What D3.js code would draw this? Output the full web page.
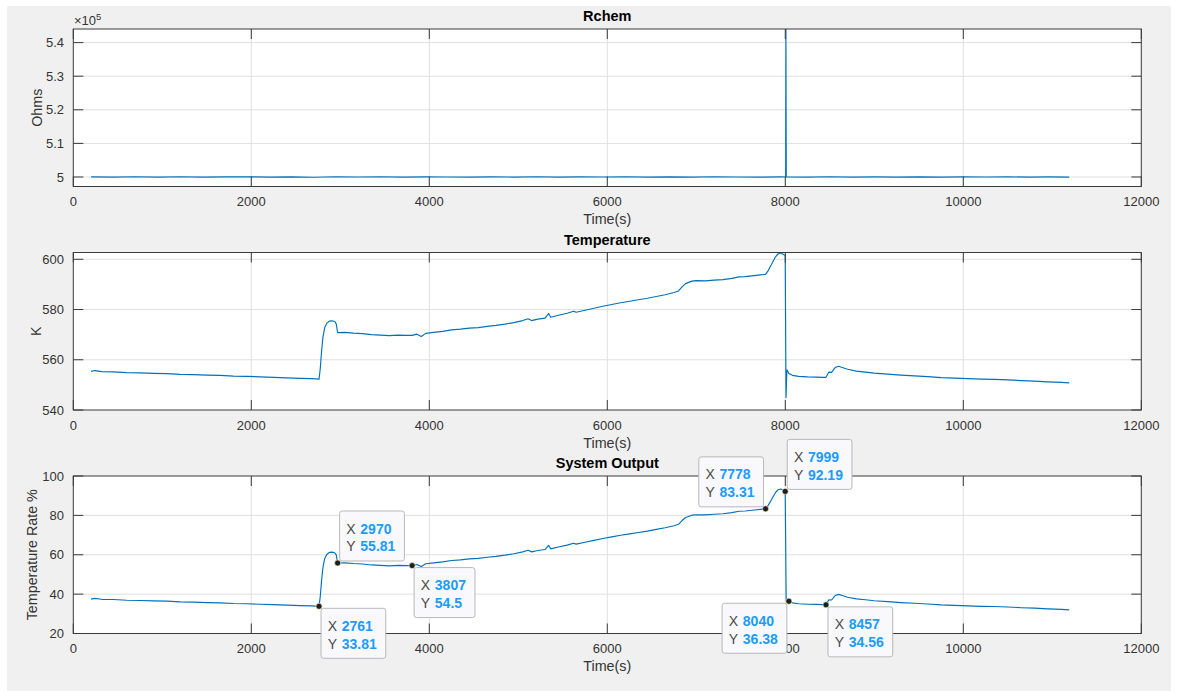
<!DOCTYPE html>
<html>
<head>
<meta charset="utf-8">
<script src="https://cdn.jsdelivr.net/npm/d3@7"></script>
<style>
  body { margin: 0; background: #ffffff; }
  svg { display: block; font-family: "Liberation Sans", Arial, Helvetica, sans-serif; }
</style>
</head>
<body>
<svg id="fig" width="1178" height="697"></svg>
<script>
// ---- data -------------------------------------------------------------
const timeTicks = [0, 2000, 4000, 6000, 8000, 10000, 12000];

// chemical resistance (ohms)
const rchemTime = [200, 450, 700, 950, 1200, 1450, 1700, 1950, 2200, 2450,
  2700, 2950, 3200, 3450, 3700, 3950, 4200, 4450, 4700, 4950,
  5200, 5450, 5700, 5950, 6200, 6450, 6700, 6950, 7200, 7450,
  7700, 7950, 8004, 8007, 8011, 8250, 8500, 8750, 9000, 9250,
  9500, 9750, 10000, 10250, 10500, 10750, 10950, 11190];
const rchemValue = [500050, 499950, 500080, 499980, 500060, 499940, 500030, 500070, 499960, 500020,
  499930, 500060, 499990, 500080, 499950, 500040, 500010, 499960, 500050, 499980,
  500070, 499940, 500030, 499990, 500060, 499970, 500040, 499950, 500070, 500000,
  499960, 500030, 500010, 544050, 500020, 499970, 500060, 499940, 500030, 499980,
  500050, 499960, 500040, 499990, 500060, 499950, 500020, 499980];
const rchemTicks = [500000, 510000, 520000, 530000, 540000];

// temperature (K)
const tempTime = [200, 240, 320, 450, 600, 750, 900, 1050, 1200, 1350,
  1500, 1650, 1800, 1950, 2100, 2250, 2400, 2550, 2680, 2761,
  2775, 2790, 2805, 2825, 2850, 2880, 2910, 2940, 2955, 2963,
  2970, 3050, 3150, 3250, 3350, 3450, 3550, 3650, 3750, 3807,
  3860, 3910, 3960, 4050, 4150, 4250, 4350, 4450, 4550, 4650,
  4750, 4850, 4950, 5050, 5110, 5150, 5220, 5300, 5340, 5365,
  5450, 5550, 5620, 5650, 5750, 5850, 5950, 6050, 6150, 6250,
  6350, 6450, 6550, 6650, 6750, 6800, 6840, 6880, 6950, 7000,
  7100, 7200, 7300, 7400, 7480, 7550, 7650, 7720, 7778, 7810,
  7850, 7890, 7920, 7950, 7975, 7999, 8008, 8018, 8040, 8080,
  8150, 8250, 8350, 8420, 8457, 8490, 8520, 8560, 8600, 8640,
  8700, 8800, 8900, 9000, 9150, 9300, 9450, 9600, 9750, 9900,
  10050, 10200, 10350, 10500, 10650, 10800, 10950, 11100, 11190];
const tempValue = [555.4, 555.7, 555.3, 555.2, 554.9, 554.8, 554.6, 554.5, 554.2, 554.1,
  553.9, 553.8, 553.5, 553.4, 553.2, 553.0, 552.8, 552.6, 552.5, 552.3,
  556.5, 563.5, 569.0, 572.8, 574.6, 575.4, 575.5, 575.1, 574.2, 572.3,
  570.8, 570.9, 570.6, 570.4, 570.0, 569.8, 569.6, 569.8, 569.7, 569.7,
  570.2, 569.3, 570.5, 570.9, 571.3, 571.9, 572.2, 572.6, 572.8, 573.3,
  573.7, 574.2, 574.8, 575.6, 576.3, 575.6, 576.2, 576.6, 578.4, 576.9,
  577.7, 578.5, 579.3, 578.9, 579.7, 580.5, 581.3, 582.0, 582.7, 583.3,
  583.9, 584.5, 585.2, 585.9, 586.8, 587.4, 589.0, 590.3, 591.3, 591.5,
  591.4, 591.7, 591.9, 592.4, 593.0, 593.1, 593.5, 593.8, 594.0, 595.6,
  598.3, 601.0, 602.2, 602.5, 602.0, 601.5, 545.0, 556.0, 554.5, 553.8,
  553.4, 553.2, 553.1, 553.0, 553.0, 555.1, 555.0, 556.9, 557.4, 556.9,
  556.2, 555.5, 555.1, 554.7, 554.3, 553.9, 553.6, 553.3, 552.9, 552.7,
  552.5, 552.3, 552.2, 552.0, 551.7, 551.5, 551.2, 551.0, 550.8];
const tempTicks = [540, 560, 580, 600];

// system output (temperature rate %)
const outTime = [200, 240, 320, 450, 600, 750, 900, 1050, 1200, 1350,
  1500, 1650, 1800, 1950, 2100, 2250, 2400, 2550, 2680, 2761,
  2775, 2790, 2805, 2825, 2850, 2880, 2910, 2940, 2955, 2963,
  2970, 3050, 3150, 3250, 3350, 3450, 3550, 3650, 3750, 3807,
  3860, 3910, 3960, 4050, 4150, 4250, 4350, 4450, 4550, 4650,
  4750, 4850, 4950, 5050, 5110, 5150, 5220, 5300, 5340, 5365,
  5450, 5550, 5620, 5650, 5750, 5850, 5950, 6050, 6150, 6250,
  6350, 6450, 6550, 6650, 6750, 6800, 6840, 6880, 6950, 7000,
  7100, 7200, 7300, 7400, 7480, 7550, 7650, 7720, 7778, 7810,
  7850, 7890, 7920, 7950, 7975, 7999, 8010, 8040, 8080,
  8150, 8250, 8350, 8420, 8457, 8490, 8520, 8560, 8600, 8640,
  8700, 8800, 8900, 9000, 9150, 9300, 9450, 9600, 9750, 9900,
  10050, 10200, 10350, 10500, 10650, 10800, 10950, 11100, 11190];
const outValue = [37.49, 37.85, 37.37, 37.25, 36.90, 36.78, 36.54, 36.42, 36.07, 35.95,
  35.71, 35.59, 35.23, 35.12, 34.88, 34.64, 34.40, 34.17, 34.05, 33.81,
  38.80, 47.10, 53.63, 58.14, 60.28, 61.23, 61.35, 60.87, 59.81, 57.55,
  55.81, 55.89, 55.53, 55.29, 54.82, 54.58, 54.35, 54.58, 54.46, 54.5,
  55.06, 53.99, 55.41, 55.89, 56.36, 57.08, 57.43, 57.91, 58.14, 58.74,
  59.21, 59.81, 60.52, 61.47, 62.30, 61.47, 62.18, 62.65, 64.79, 63.01,
  63.96, 64.91, 65.86, 65.38, 66.33, 67.28, 68.23, 69.06, 69.89, 70.61,
  71.32, 72.03, 72.86, 73.69, 74.76, 75.47, 77.37, 78.92, 80.10, 80.34,
  80.22, 80.58, 80.82, 81.41, 82.12, 82.24, 82.71, 83.07, 83.31, 85.21,
  88.41, 91.62, 93.04, 93.40, 92.80, 92.19, 36.60, 36.38, 35.59,
  35.12, 34.88, 34.76, 34.64, 34.56, 37.13, 37.01, 39.27, 39.86, 39.27,
  38.44, 37.61, 37.13, 36.66, 36.18, 35.71, 35.35, 35.00, 34.52, 34.28,
  34.05, 33.81, 33.69, 33.45, 33.10, 32.86, 32.50, 32.27, 32.03];
const outTicks = [20, 40, 60, 80, 100];

// marked data points on the system output trace
const tipTime  = [2761, 2970, 3807, 7778, 7999, 8040, 8457];
const tipValue = [33.81, 55.81, 54.5, 83.31, 92.19, 36.38, 34.56];
// which side of the point each label box sits on
const tipSide  = ["br", "tr", "br", "tl", "tr", "bl", "br"];

// ---- layout -----------------------------------------------------------
const svg = d3.select("#fig");
const plotLeft = 73.3, plotRight = 1141.3, plotH = 157.5;
const ink = "#333333", lineColor = "#0072bd", gridColor = "#e0e0e0";
const tickLen = 10;

svg.append("rect").attr("x", 7).attr("y", 6).attr("width", 1164).attr("height", 685)
  .attr("fill", "#f0f0f0");

const x = d3.scaleLinear().domain([0, 12000]).range([plotLeft, plotRight]);

const panels = [
  { title: "Rchem", ylabel: "Ohms", top: 29, domain: [4.9717e5, 5.4405e5],
    ticks: rchemTicks, fmt: v => d3.format(".2~f")(v / 1e5), t: rchemTime, v: rchemValue, ylx: 37 },
  { title: "Temperature", ylabel: "K", top: 252.5, domain: [540, 602.7],
    ticks: tempTicks, fmt: d3.format("d"), t: tempTime, v: tempValue, ylx: 35.5 },
  { title: "System Output", ylabel: "Temperature Rate %", top: 476, domain: [20, 100],
    ticks: outTicks, fmt: d3.format("d"), t: outTime, v: outValue, ylx: 31.7 }
];

panels.forEach((p, i) => {
  const top = p.top, bottom = top + plotH;
  const y = d3.scaleLinear().domain(p.domain).range([bottom, top]);
  p.y = y;
  const g = svg.append("g");

  g.append("rect").attr("x", plotLeft).attr("y", top)
    .attr("width", plotRight - plotLeft).attr("height", plotH).attr("fill", "#ffffff");

  // grid
  g.selectAll(".gx").data(timeTicks.slice(1, -1)).join("line")
    .attr("x1", d => x(d)).attr("x2", d => x(d)).attr("y1", top).attr("y2", bottom)
    .attr("stroke", gridColor).attr("stroke-width", 1);
  g.selectAll(".gy").data(p.ticks.filter(d => y(d) > top + 1 && y(d) < bottom - 1)).join("line")
    .attr("x1", plotLeft).attr("x2", plotRight).attr("y1", d => y(d)).attr("y2", d => y(d))
    .attr("stroke", gridColor).attr("stroke-width", 1);

  // data trace
  const clipId = "clip" + i;
  svg.append("clipPath").attr("id", clipId).append("rect")
    .attr("x", plotLeft).attr("y", top).attr("width", plotRight - plotLeft).attr("height", plotH);
  const pts = p.t.map((t, k) => [t, p.v[k]]);
  g.append("path").datum(pts)
    .attr("clip-path", `url(#${clipId})`)
    .attr("fill", "none").attr("stroke", lineColor).attr("stroke-width", 1.15)
    .attr("stroke-linejoin", "round")
    .attr("d", d3.line().x(d => x(d[0])).y(d => y(d[1])));

  // box
  g.append("rect").attr("x", plotLeft).attr("y", top)
    .attr("width", plotRight - plotLeft).attr("height", plotH)
    .attr("fill", "none").attr("stroke", "#3a3a3a").attr("stroke-width", 1);

  // ticks (inward, all four sides)
  const tk = g.append("g").attr("stroke", "#3a3a3a").attr("stroke-width", 1);
  timeTicks.forEach(d => {
    tk.append("line").attr("x1", x(d)).attr("x2", x(d)).attr("y1", bottom).attr("y2", bottom - tickLen);
    tk.append("line").attr("x1", x(d)).attr("x2", x(d)).attr("y1", top).attr("y2", top + tickLen);
  });
  p.ticks.forEach(d => {
    tk.append("line").attr("x1", plotLeft).attr("x2", plotLeft + tickLen).attr("y1", y(d)).attr("y2", y(d));
    tk.append("line").attr("x1", plotRight).attr("x2", plotRight - tickLen).attr("y1", y(d)).attr("y2", y(d));
  });

  // tick labels
  g.selectAll(".xl").data(timeTicks).join("text")
    .attr("x", d => x(d)).attr("y", bottom + 19.5).attr("text-anchor", "middle")
    .attr("font-size", 13).attr("fill", ink).text(d => d);
  g.selectAll(".yl").data(p.ticks).join("text")
    .attr("x", plotLeft - 9.3).attr("y", d => y(d)).attr("dy", "0.35em").attr("text-anchor", "end")
    .attr("font-size", 13).attr("fill", ink).text(p.fmt);

  // axis labels and title
  g.append("text").attr("x", (plotLeft + plotRight) / 2).attr("y", bottom + 37.5)
    .attr("text-anchor", "middle").attr("font-size", 14.3).attr("fill", ink).text("Time(s)");
  g.append("text")
    .attr("transform", `translate(${p.ylx},${(top + bottom) / 2}) rotate(-90)`)
    .attr("dy", "0.35em").attr("text-anchor", "middle")
    .attr("font-size", 14.3).attr("fill", ink).text(p.ylabel);
  g.append("text").attr("x", (plotLeft + plotRight) / 2).attr("y", top - 8)
    .attr("text-anchor", "middle").attr("font-size", 14.5).attr("font-weight", "bold")
    .attr("fill", "#000").text(p.title);
});

// exponent for the resistance axis
const ex = svg.append("text").attr("x", 74).attr("y", 25).attr("font-size", 13).attr("fill", ink);
ex.append("tspan").text("\u00d710");
ex.append("tspan").attr("font-size", 9.5).attr("dy", -5.5).text("5");

// ---- data tips on the system output panel ------------------------------
const yOut = panels[2].y;
const fmtTip = d3.format(".4~g");
const tipLayer = svg.append("g");
tipTime.forEach((t, i) => {
  const px = x(t), py = yOut(tipValue[i]);
  const side = tipSide[i];
  const tg = tipLayer.append("g");
  const box = tg.append("rect").attr("rx", 2.5).attr("ry", 2.5)
    .attr("fill", "#f9f9fd").attr("stroke", "#b8b8b8").attr("stroke-width", 1);
  const lines = [["X", fmtTip(t)], ["Y", fmtTip(tipValue[i])]];
  const texts = lines.map(l => {
    const lab = tg.append("text").attr("font-size", 14).attr("fill", "#4a4a4a").text(l[0]);
    const val = tg.append("text").attr("font-size", 14).attr("font-weight", "bold")
      .attr("fill", "#1c9cff").text(l[1]);
    return [lab, val];
  });
  const valW = d3.max(texts, tt => tt[1].node().getComputedTextLength());
  const bw = 20.7 + valW + 9, bh = 50;
  const left = side[1] === "r" ? px + 2 : px - 2 - bw;
  const topY = side[0] === "b" ? py + 2 : py - 2 - bh;
  box.attr("x", left).attr("y", topY).attr("width", bw).attr("height", bh);
  texts.forEach((tt, k) => {
    const base = topY + 22.6 + k * 17.7;
    tt[0].attr("x", left + 6.7).attr("y", base);
    tt[1].attr("x", left + 20.7).attr("y", base);
  });
  tipLayer.append("circle").attr("cx", px).attr("cy", py).attr("r", 3)
    .attr("fill", "#1e1e1e").attr("stroke", "#f2eecc").attr("stroke-width", 0.6);
});
</script>
</body>
</html>
